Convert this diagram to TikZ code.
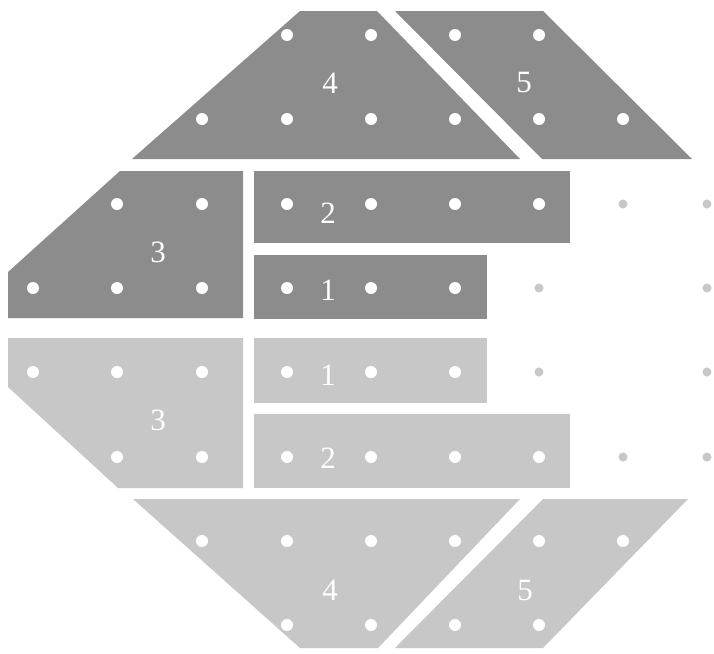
\documentclass[tikz,border=0pt]{standalone}
\usepackage{fontspec}
\setmainfont{Liberation Serif}
\begin{document}
\begin{tikzpicture}[x=1pt,y=-1pt,
  darkpiece/.style={fill=black!45},
  lightpiece/.style={fill=black!22},
  hole/.style={fill=white},
  faint/.style={fill=black!22},
  num/.style={text=white,font=\fontsize{31}{31}\selectfont,inner sep=0pt}]
\useasboundingbox[fill=white] (0,0) rectangle (714,653);
% ---- dark (upper) half ----
\fill[darkpiece] (300,11) -- (377,11) -- (520,159) -- (132,159) -- cycle;
\fill[darkpiece] (395,11) -- (543,11) -- (692,159) -- (542,159) -- cycle;
\fill[darkpiece] (120,171) -- (243,171) -- (243,318) -- (8,318) -- (8,272) -- cycle;
\fill[darkpiece] (254,171) rectangle (570,243);
\fill[darkpiece] (254,255) rectangle (487,319);
% ---- light (lower) half ----
\fill[lightpiece] (8,338) -- (243,338) -- (243,488) -- (118,488) -- (8,387) -- cycle;
\fill[lightpiece] (254,338) rectangle (487,403);
\fill[lightpiece] (254,414) rectangle (570,488);
\fill[lightpiece] (133,499) -- (520,499) -- (378,648) -- (300,648) -- cycle;
\fill[lightpiece] (543,499) -- (688,499) -- (543,648) -- (395,648) -- cycle;
% ---- holes ----
\foreach \p in {(287,35),(371,35),(202,119),(287,119),(371,119),
                (455,35),(539,35),(455,119),(539,119),(623,119),
                (117,204),(202,204),(33,288),(117,288),(202,288),
                (287,204),(371,204),(455,204),(539,204),
                (287,288),(371,288),(455,288),
                (33,372),(117,372),(202,372),(117,457),(202,457),
                (287,372),(371,372),(455,372),
                (287,457),(371,457),(455,457),(539,457),
                (202,541),(287,541),(371,541),(287,625),(371,625),
                (455,541),(539,541),(623,541),(455,625),(539,625)}
  \fill[hole] \p circle (6);
\foreach \p in {(623,204),(707,204),(539,288),(707,288),
                (539,372),(707,372),(623,457),(707,457)}
  \fill[faint] \p circle (4.5);
% ---- labels ----
\node[num] (d4) at (330,83) {4};
\node[num] (d5) at (524,83) {5};
\node[num] (d3) at (158,252) {3};
\node[num] (d2) at (328,213) {2};
\node[num] (d1) at (328,290) {1};
\node[num] (l3) at (158,420) {3};
\node[num] (l1) at (328,375) {1};
\node[num] (l2) at (328,458) {2};
\node[num] (l4) at (330,590) {4};
\node[num] (l5) at (525,590) {5};
\end{tikzpicture}
\end{document}
